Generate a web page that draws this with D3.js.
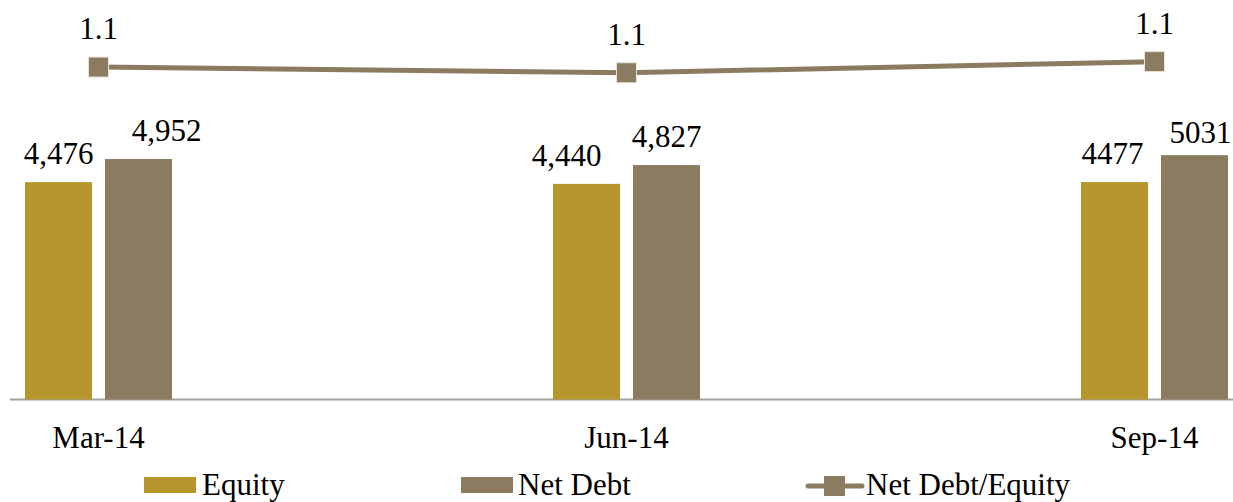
<!DOCTYPE html>
<html>
<head>
<meta charset="utf-8">
<title>Equity and Net Debt</title>
<script src="https://d3js.org/d3.v7.min.js"></script>
<style>
  body { margin: 0; background: #fff; }
</style>
</head>
<body>
<script>
// data
var categories = ["Mar-14", "Jun-14", "Sep-14"];
var equity = [4476, 4440, 4477];
var netDebt = [4952, 4827, 5031];
var ratio = [1.106, 1.087, 1.124];
var equityLabels = ["4,476", "4,440", "4477"];
var netDebtLabels = ["4,952", "4,827", "5031"];
var ratioLabels = ["1.1", "1.1", "1.1"];

// hand-nudged label offsets as in the original
var equityNudge = [0, -20, -2];
var netDebtNudge = [28, 0, 6];
var netDebtLift = [18, 18, 12];

var W = 1233, H = 502;
var gold = "#b8962e", brown = "#8b7b61";
var serif = "'Liberation Serif', 'Times New Roman', Times, serif";

var svg = d3.select("body").append("svg")
    .attr("width", W).attr("height", H)
    .attr("font-family", serif)
    .attr("font-size", 31);

var x = d3.scalePoint().domain(categories).range([98.5, 1154.5]);
var y = d3.scaleLinear().domain([0, 6000]).range([399.5, 108.1]);
var y2 = d3.scaleLinear().domain([0, 1.2]).range([399.5, 38.8]);

var barW = 67, off = 40;

// axis line
svg.append("line")
    .attr("x1", 10).attr("x2", W).attr("y1", 399.5).attr("y2", 399.5)
    .attr("stroke", "#a0a0a0").attr("stroke-width", 2);

// bars
svg.selectAll(".eq").data(equity).enter().append("rect")
    .attr("x", (d, i) => x(categories[i]) - off - barW / 2)
    .attr("y", d => y(d))
    .attr("width", barW)
    .attr("height", d => y(0) - y(d))
    .attr("fill", gold);

svg.selectAll(".nd").data(netDebt).enter().append("rect")
    .attr("x", (d, i) => x(categories[i]) + off - barW / 2)
    .attr("y", d => y(d))
    .attr("width", barW)
    .attr("height", d => y(0) - y(d))
    .attr("fill", brown);

// bar labels
svg.selectAll(".eql").data(equity).enter().append("text")
    .attr("x", (d, i) => x(categories[i]) - off + equityNudge[i])
    .attr("y", d => y(d) - 18)
    .attr("text-anchor", "middle")
    .text((d, i) => equityLabels[i]);

svg.selectAll(".ndl").data(netDebt).enter().append("text")
    .attr("x", (d, i) => x(categories[i]) + off + netDebtNudge[i])
    .attr("y", (d, i) => y(d) - netDebtLift[i])
    .attr("text-anchor", "middle")
    .text((d, i) => netDebtLabels[i]);

// ratio line
var line = d3.line()
    .x((d, i) => x(categories[i]))
    .y(d => y2(d));

svg.append("path").datum(ratio)
    .attr("d", line)
    .attr("fill", "none")
    .attr("stroke", brown)
    .attr("stroke-width", 5);

svg.selectAll(".mk").data(ratio).enter().append("rect")
    .attr("x", (d, i) => x(categories[i]) - 10)
    .attr("y", d => y2(d) - 10)
    .attr("width", 20).attr("height", 20)
    .attr("fill", brown)
    .attr("stroke", "#e9e4da").attr("stroke-width", 1);

svg.selectAll(".rl").data(ratio).enter().append("text")
    .attr("x", (d, i) => x(categories[i]))
    .attr("y", d => y2(d) - 28)
    .attr("text-anchor", "middle")
    .text((d, i) => ratioLabels[i]);

// category labels
svg.selectAll(".cat").data(categories).enter().append("text")
    .attr("x", d => x(d))
    .attr("y", 448)
    .attr("text-anchor", "middle")
    .text(d => d);

// legend
var lg = svg.append("g");
lg.append("rect").attr("x", 144).attr("y", 477).attr("width", 52).attr("height", 16).attr("fill", gold);
lg.append("text").attr("x", 202).attr("y", 495).text("Equity");
lg.append("rect").attr("x", 461).attr("y", 477).attr("width", 52).attr("height", 16).attr("fill", brown);
lg.append("text").attr("x", 518).attr("y", 495).text("Net Debt");
lg.append("line").attr("x1", 808).attr("x2", 862).attr("y1", 486).attr("y2", 486)
    .attr("stroke", brown).attr("stroke-width", 5).attr("stroke-linecap", "round");
lg.append("rect").attr("x", 824).attr("y", 476).attr("width", 21).attr("height", 20).attr("fill", brown);
lg.append("text").attr("x", 866).attr("y", 495).text("Net Debt/Equity");
</script>
</body>
</html>
